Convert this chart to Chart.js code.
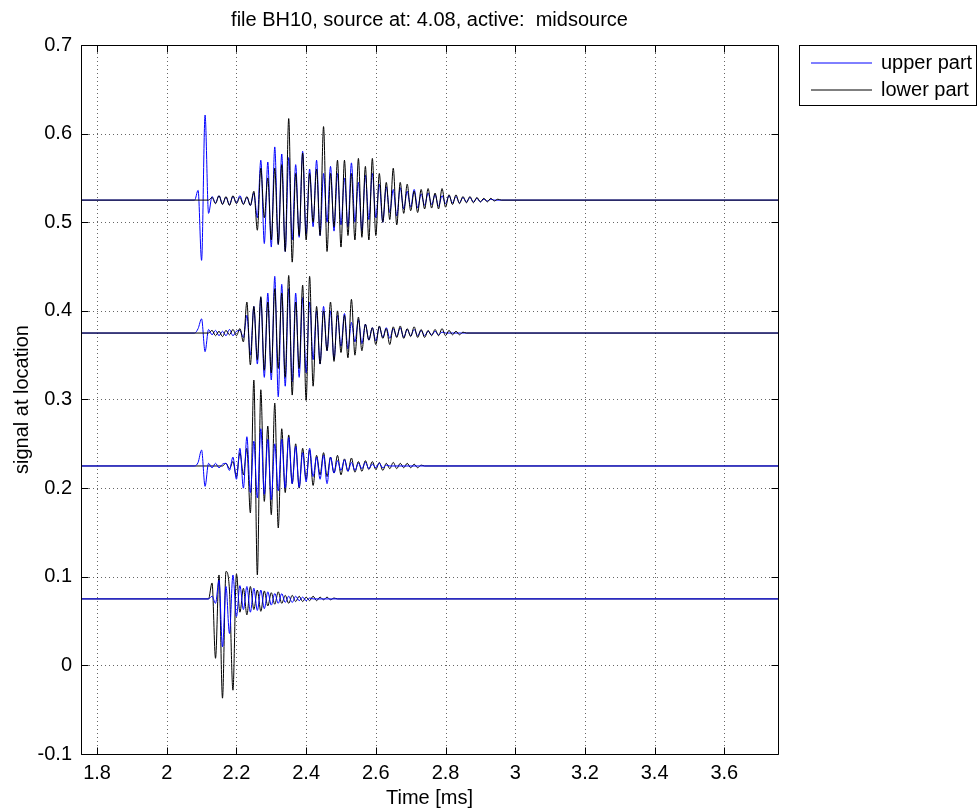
<!DOCTYPE html>
<html>
<head>
<meta charset="utf-8">
<title>BH10 midsource</title>
<script src="https://cdn.jsdelivr.net/npm/chart.js@4.4.1/dist/chart.umd.min.js"></script>
<style>
  html, body { margin: 0; padding: 0; background: #fff; }
  #wrap { position: relative; width: 978px; height: 810px; }
</style>
</head>
<body>
<div id="wrap"><canvas id="traces" width="978" height="810"></canvas></div>
<script>
// Time window and axis ticks
const timeMin = 1.754;
const timeMax = 3.754;
const timeTicks = [1.8, 2.0, 2.2, 2.4, 2.6, 2.8, 3.0, 3.2, 3.4, 3.6];
const signalTicks = [-0.1, 0, 0.1, 0.2, 0.3, 0.4, 0.5, 0.6, 0.7];

// Receiver locations (trace baselines), top to bottom
const baselines = [0.525, 0.375, 0.225, 0.075];
// First sample time of each wiggle list, ms
const upperOnsets = [2.08, 2.08, 2.08, 2.12];
const lowerOnsets = [2.12, 2.12, 2.16, 2.12];
const sampleStep = 0.01;

// Deviation from baseline in 1/1000, one value per half cycle
const upperA = [0, 11, -68, 96, -15, 4, -3, 5, -4, 3, -5, 4, -3, 5, -4, 3, -6, 8,
  -20, 45, -49, 43, -53, 60, -50, 52, -58, 48, -45, 40, -42, 55, -38, 35, -30, 45, -40, 30,
  -25, 38, -35, 30, -28, 25, -30, 42, -25, 20, -35, 28, -22, 30, -20, 18, -25, 15, -14, 12,
  -18, 14, -10, 10, -8, 12, -9, 7, -6, 8, -5, 6, -7, 5, -4, 5, -3, 4, -3, 3,
  -2, 3, -2, 2, -2, 1, -1, 1, 0];
const lowerA = [0, 3, -4, 5, -5, 4, -6, 5, -4, 3, -5, 4, -6, 10, -34, 36, -20, 25, -45, 36,
  -50, 40, -58, 92, -70, 30, -40, 53, -45, 30, -25, 35, -40, 83, -58, 30, -30, 45, -53, 45,
  -40, 30, -45, 47, -42, 38, -45, 47, -40, 30, -25, 20, -22, 36, -28, 20, -15, 18, -12, 10,
  -14, 12, -10, 13, -9, 8, -10, 13, -8, 6, -5, 6, -4, 4, -3, 4, -3, 3, -2, 2, -2, 2, -1, 1, 0];

const upperB = [0, 5, 16, -21, 4, -2, 3, -3, 2, -3, 4, -3, 2, 3, -5, 20, -25, 30, -35, 40,
  -50, 45, -53, 64, -72, 55, -60, 50, -55, 45, -50, 40, -45, 35, -30, 25, -35, 30, -20, 25,
  -30, 20, -15, 22, -18, 12, -10, 15, -12, 10, -8, 6, -9, 7, -5, 6, -6, 5, -4, 6,
  -5, 4, -3, 4, -3, 3, -3, 2, -2, 2, -2, 1, 0];
const lowerB = [0, 3, -3, 2, -4, 3, -2, 4, -3, 5, -10, 35, -36, 30, -30, 41, -42, 35, -45, 50,
  -40, 45, -50, 65, -70, 35, -40, 54, -76, 64, -60, 30, -35, 25, -20, 35, -32, 25, -22, 20,
  -28, 38, -25, 18, -20, 10, -8, 6, -13, 8, -6, 5, -13, 7, -5, 8, -6, 5, -4, 7,
  -5, 4, -5, 3, -3, 4, -3, 5, -3, 3, -2, 2, -2, 1, 0];

const upperC = [0, 4, 18, -23, 3, -2, 3, -2, 2, 3, -5, 10, -15, 20, -25, 33, -30, 28, -36, 42,
  -32, 30, -38, 25, -28, 30, -25, 32, -20, 22, -24, 15, -18, 20, -12, 10, -15, 12, -20, 10,
  -8, 6, -5, 7, -6, 4, -5, 3, -3, 4, -3, 2, -2, 3, -2, 1, 0];
const lowerC = [0, 3, -3, 5, -12, 15, -10, 20, -53, 97, -123, 86, -40, 45, -55, 71, -70, 42, -30, 35,
  -20, 25, -25, 20, -15, 18, -22, 12, -10, 15, -12, 10, -8, 12, -10, 8, -6, 9, -7, 5,
  -6, 6, -4, 5, -4, 4, -5, 3, -3, 4, -3, 3, -2, 3, -2, 2, -2, 1, 0];

const upperD = [0, 3, -5, 21, -54, 14, -39, 27, -20, 15, -12, 14, -15, 12, -13, 10, -11, 8, -7, 6,
  -5, 6, -4, 3, -4, 3, -2, 2, -2, 1, 0];
const lowerD = [0, 18, -67, 27, -112, 31, 10, -103, 28, -15, 12, -18, 14, -12, 10, -14, 9, -8, 7, -6,
  8, -5, 4, -5, 4, -3, 3, -3, 2, -2, 3, -2, 2, -1, 2, -1, 1, 0];

const upperParts = [upperA, upperB, upperC, upperD];
const lowerParts = [lowerA, lowerB, lowerC, lowerD];

const upperColor = '#0000ff';
const lowerColor = '#000000';
const fontFamily = '"Liberation Sans", Arial, Helvetica, sans-serif';
const fontSize = 20;

// Build one trace: flat baseline, the recorded wiggle, flat baseline again
function buildTrace(base, onset, values) {
  const pts = [{ x: timeMin, y: base }];
  values.forEach((v, i) => {
    pts.push({ x: onset + i * sampleStep, y: base + v / 1000 });
  });
  pts.push({ x: timeMax, y: base });
  return pts;
}

function lineSet(label, color, data, order) {
  return {
    label, data, order,
    borderColor: color,
    borderWidth: 1,
    pointRadius: 0,
    cubicInterpolationMode: 'monotone',
    fill: false
  };
}

const datasets = [];
baselines.forEach((base, k) => {
  // the two deeper traces show the upper part on top
  const blueOnTop = k >= 2;
  datasets.push(lineSet('upper part', upperColor,
    buildTrace(base, upperOnsets[k], upperParts[k]), blueOnTop ? 1 : 2));
  datasets.push(lineSet('lower part', lowerColor,
    buildTrace(base, lowerOnsets[k], lowerParts[k]), blueOnTop ? 2 : 1));
});

function fmtTick(v) {
  return String(Number(v.toFixed(1)));
}

// Dotted grid under the traces, solid box and inward ticks over them
const axesFrame = {
  id: 'axesFrame',
  beforeDatasetsDraw(chart) {
    const { ctx, chartArea: a, scales } = chart;
    ctx.save();
    ctx.strokeStyle = 'rgba(0,0,0,0.6)';
    ctx.lineWidth = 1;
    ctx.setLineDash([1, 3]);
    ctx.beginPath();
    timeTicks.forEach(t => {
      const px = Math.round(scales.x.getPixelForValue(t)) + 0.5;
      ctx.moveTo(px, a.top);
      ctx.lineTo(px, a.bottom);
    });
    signalTicks.forEach(s => {
      const py = Math.round(scales.y.getPixelForValue(s)) + 0.5;
      ctx.moveTo(a.left, py);
      ctx.lineTo(a.right, py);
    });
    ctx.stroke();
    ctx.restore();
  },
  afterDatasetsDraw(chart) {
    const { ctx, chartArea: a, scales } = chart;
    const L = Math.round(a.left) + 0.5, R = Math.round(a.right) + 0.5;
    const T = Math.round(a.top) + 0.5, B = Math.round(a.bottom) + 0.5;
    const tick = 7;
    ctx.save();
    ctx.strokeStyle = '#000';
    ctx.lineWidth = 1;
    ctx.setLineDash([]);
    ctx.beginPath();
    timeTicks.forEach(t => {
      const px = Math.round(scales.x.getPixelForValue(t)) + 0.5;
      ctx.moveTo(px, B); ctx.lineTo(px, B - tick);
      ctx.moveTo(px, T); ctx.lineTo(px, T + tick);
    });
    signalTicks.forEach(s => {
      const py = Math.round(scales.y.getPixelForValue(s)) + 0.5;
      ctx.moveTo(L, py); ctx.lineTo(L + tick, py);
      ctx.moveTo(R, py); ctx.lineTo(R - tick, py);
    });
    ctx.rect(L, T, R - L, B - T);
    ctx.stroke();
    ctx.restore();
  }
};

// Boxed legend to the right of the axes
const boxLegend = {
  id: 'boxLegend',
  afterDraw(chart) {
    const ctx = chart.ctx;
    const entries = [
      { text: 'upper part', color: upperColor, y: 63 },
      { text: 'lower part', color: lowerColor, y: 90 }
    ];
    ctx.save();
    ctx.fillStyle = '#fff';
    ctx.fillRect(799, 45, 178, 61);
    ctx.strokeStyle = '#000';
    ctx.lineWidth = 1;
    ctx.strokeRect(799.5, 45.5, 177, 60);
    ctx.font = fontSize + 'px ' + fontFamily;
    ctx.textBaseline = 'middle';
    entries.forEach(e => {
      ctx.strokeStyle = e.color;
      ctx.lineWidth = 1;
      ctx.beginPath();
      ctx.moveTo(811, e.y);
      ctx.lineTo(872, e.y);
      ctx.stroke();
      ctx.fillStyle = '#000';
      ctx.fillText(e.text, 881, e.y);
    });
    ctx.restore();
  }
};

new Chart(document.getElementById('traces'), {
  type: 'line',
  data: { datasets },
  options: {
    responsive: false,
    animation: false,
    devicePixelRatio: 1,
    parsing: false,
    layout: { padding: { left: 0, right: 200, top: 0, bottom: 0 } },
    plugins: {
      legend: { display: false },
      tooltip: { enabled: false },
      title: {
        display: true,
        fullSize: false,
        text: 'file BH10, source at: 4.08, active:  midsource',
        color: '#000',
        font: { family: fontFamily, size: fontSize, weight: 'normal' },
        padding: { top: 8, bottom: 13 }
      }
    },
    scales: {
      x: {
        type: 'linear',
        min: timeMin,
        max: timeMax,
        grid: { display: false, drawTicks: false, tickLength: 0 },
        border: { display: false },
        ticks: {
          color: '#000',
          padding: 7,
          font: { family: fontFamily, size: fontSize },
          callback: v => fmtTick(v)
        },
        afterBuildTicks: s => { s.ticks = timeTicks.map(v => ({ value: v })); },
        afterFit: s => { s.height = 56; },
        title: {
          display: true,
          text: 'Time [ms]',
          color: '#000',
          font: { family: fontFamily, size: fontSize },
          padding: { top: 0, bottom: 0 }
        }
      },
      y: {
        type: 'linear',
        min: -0.1,
        max: 0.7,
        grid: { display: false, drawTicks: false, tickLength: 0 },
        border: { display: false },
        ticks: {
          color: '#000',
          padding: 9,
          font: { family: fontFamily, size: fontSize },
          callback: v => fmtTick(v)
        },
        afterBuildTicks: s => { s.ticks = signalTicks.map(v => ({ value: v })); },
        afterFit: s => { s.width = 81; },
        title: {
          display: true,
          text: 'signal at location',
          color: '#000',
          font: { family: fontFamily, size: fontSize },
          padding: { top: 10, bottom: 0 }
        }
      }
    }
  },
  plugins: [axesFrame, boxLegend]
});
</script>
</body>
</html>
